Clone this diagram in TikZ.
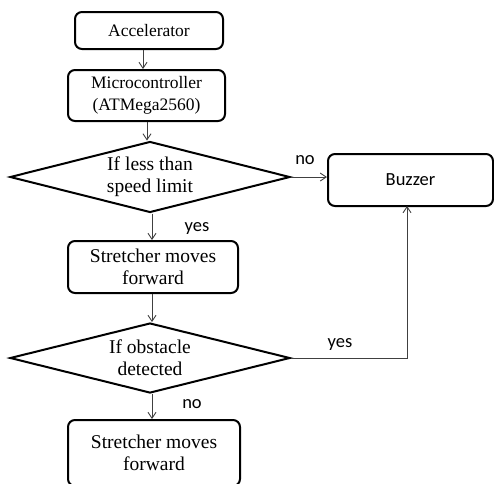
\documentclass[tikz,border=0pt]{standalone}
\usepackage{fontspec}
\setmainfont{Liberation Serif}
\newfontfamily\lblfont{Carlito}
\usetikzlibrary{shapes.geometric,arrows.meta}
\begin{document}
\begin{tikzpicture}[x=1pt,y=-1pt,
  box/.style={draw=black,line width=2pt,rounded corners=7pt,inner sep=0pt,align=center,font=\fontsize{19.5}{22}\selectfont},
  smalltext/.style={font=\fontsize{17.5}{22}\selectfont},
  dec/.style={draw=black,line width=2pt,shape=diamond,aspect=3.94,inner sep=0pt,align=center,font=\fontsize{19.5}{22}\selectfont},
  arr/.style={draw=black!75,line width=0.9pt,-{Straight Barb[length=6pt,width=8pt,line width=0.9pt]}},
  lbl/.style={font=\lblfont\fontsize{18.5}{20}\selectfont,inner sep=0pt}]
\useasboundingbox (0,0) rectangle (494,483);
\node[box,smalltext,minimum width=148pt,minimum height=37pt] (acc) at (149,30.5) {Accelerator};
\node[box,smalltext,minimum width=157pt,minimum height=51pt] (mcu) at (146.5,95.5) {Microcontroller\\(ATMega2560)};
\node[dec,minimum width=280pt,minimum height=71pt] (d1) at (150,177) {If less than\\speed limit};
\node[box,font=\lblfont\fontsize{18.5}{22}\selectfont,minimum width=165pt,minimum height=52pt] (buz) at (410.5,180) {Buzzer};
\node[box,minimum width=170pt,minimum height=52pt] (s1) at (153,267) {Stretcher moves\\forward};
\node[dec,minimum width=280pt,minimum height=70pt] (d2) at (150,358) {If obstacle\\detected};
\node[box,minimum width=172pt,minimum height=66pt] (s2) at (154,453) {Stretcher moves\\forward};
\coordinate (bz) at (407,206);
\draw[arr] (acc.south -| 143,0) -- (mcu.north -| 143,0);
\draw[arr] (mcu.south -| 147,0) -- (d1.north -| 147,0);
\draw[arr] (d1.south -| 152,0) -- (s1.north -| 152,0);
\draw[arr] (s1.south -| 152,0) -- (d2.north -| 152,0);
\draw[arr] (d2.south -| 152,0) -- (s2.north -| 152,0);
\draw[arr] (d1.east) -- (d1.east -| buz.west);
\draw[arr] (d2.east) -| (bz);
\node[lbl] (n1) at (305,160) {no};
\node[lbl] (y1) at (197,228) {yes};
\node[lbl] (y2) at (340,344) {yes};
\node[lbl] (n2) at (192,404) {no};
\end{tikzpicture}
\end{document}
